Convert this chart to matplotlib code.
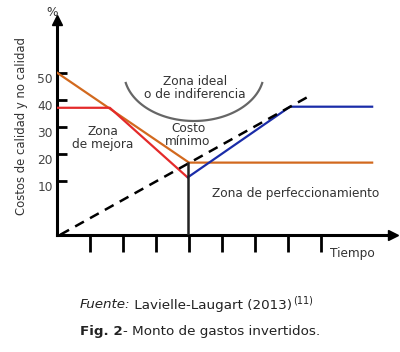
import matplotlib
matplotlib.use("Agg")
import matplotlib.pyplot as plt
import numpy as np

# Data (x in time-tick units, y in % units)
orange_x = [0, 4.0, 9.55]
orange_y = [50, 16.7, 16.7]
red_x = [0, 1.6, 3.95]
red_y = [37, 37, 11.3]
blue_x = [3.97, 7.06, 9.55]
blue_y = [11.3, 37.4, 37.4]
dash_x = [0.1, 7.67]
dash_y = [-10, 41.5]
min_x = 3.97
min_y = 16.7
ytick_vals = [10, 20, 30, 40, 50]
ytick_labels = ["10", "20", "30", "40", "50"]
xtick_vals = [1, 2, 3, 4, 5, 6, 7, 8]

plt.rcParams['font.family'] = ['DejaVu Sans']
W, H = 400, 352
fig = plt.figure(figsize=(W / 100, H / 100), dpi=100)
ax = fig.add_axes([57 / W, 1 - 235 / H, 336 / W, 215 / H])
XMAX, YMIN, YMAX = 336 / 33, -10.1, 69.5
ax.set_xlim(0, XMAX)
ax.set_ylim(YMIN, YMAX)

for s in ["top", "right"]:
    ax.spines[s].set_visible(False)
for s in ["left", "bottom"]:
    ax.spines[s].set_linewidth(2.2)
    ax.spines[s].set_color("black")

ax.set_yticks(ytick_vals)
ax.set_yticklabels(ytick_labels)
ax.set_xticks(xtick_vals)
ax.set_xticklabels([])
ax.tick_params(axis="y", direction="in", length=7, width=2, colors="black",
               labelcolor="#444444", labelsize=8.8, pad=3)
ax.tick_params(axis="x", direction="out", length=12, width=2, colors="black")
for lab in ax.get_yticklabels():
    lab.set_verticalalignment("top")

# axis arrows
ax.plot([0], [YMAX], marker="^", color="black", markersize=7, clip_on=False)
ax.plot([XMAX], [YMIN], marker=">", color="black", markersize=7, clip_on=False)

ax.plot(orange_x, orange_y, color="#D2691E", lw=1.6, zorder=3)
ax.plot(red_x, red_y, color="#E42A2A", lw=1.6, zorder=3)
ax.plot(blue_x, blue_y, color="#1A2CA8", lw=1.6, zorder=3)
ax.plot(dash_x, dash_y, color="black", lw=1.8, dashes=(4, 2.8), zorder=4)
ax.plot([min_x, min_x], [YMIN, min_y], color="#222222", lw=1.8, zorder=5)

# "zona ideal" U-shaped arc (half ellipse)
t = np.radians(np.linspace(193, 347, 80))
cx, cy, a, b = (194 - 57) / 33, (207.7 - 72) / 2.7, 70 / 33, 49 / 2.7
ax.plot(cx + a * np.cos(t), cy + b * np.sin(t), color="#666666", lw=1.6)

tc = "#333333"
def px(x, y):
    return (x - 57) / 33, (207.7 - y) / 2.7

ax.text(*px(195, 88), "Zona ideal\no de indiferencia", ha="center", va="center",
        fontsize=8.7, color=tc, linespacing=1.0)
ax.text(*px(103, 138), "Zona\nde mejora", ha="center", va="center",
        fontsize=8.7, color=tc, linespacing=1.0)
ax.text(*px(188, 135), "Costo\nmínimo", ha="center", va="center",
        fontsize=8.7, color=tc, linespacing=1.0)
ax.text(*px(296, 193), "Zona de perfeccionamiento", ha="center", va="center",
        fontsize=8.7, color=tc)
fig.text(352 / W, 1 - 254 / H, "Tiempo", ha="center", va="center", fontsize=8.7, color=tc)
fig.text(52 / W, 1 - 12 / H, "%", ha="center", va="center", fontsize=8.7, color=tc)
fig.text(22 / W, 1 - 126 / H, "Costos de calidad y no calidad", ha="center", va="center",
         rotation=90, fontsize=8.4, color=tc)

# captions
cc = "#222222"
t1 = fig.text(80 / W, 1 - 305 / H, "Fuente:", ha="left", va="center",
              fontsize=9.7, style="italic", color=cc)
ann = plt.annotate(" Lavielle-Laugart (2013)", xy=(1, 0), xycoords=t1, ha="left", va="bottom",
                   fontsize=9.7, color=cc, annotation_clip=False)
plt.annotate("(11)", xy=(1, 0.45), xycoords=ann, ha="left", va="bottom",
             fontsize=7, color=cc, annotation_clip=False)

f1 = fig.text(80 / W, 1 - 331 / H, "Fig. 2", ha="left", va="center",
              fontsize=9.7, weight="bold", color=cc)
plt.annotate("- Monto de gastos invertidos.", xy=(1, 0), xycoords=f1, ha="left", va="bottom",
             fontsize=9.7, color=cc, annotation_clip=False)

fig.savefig("out.png", dpi=100)
